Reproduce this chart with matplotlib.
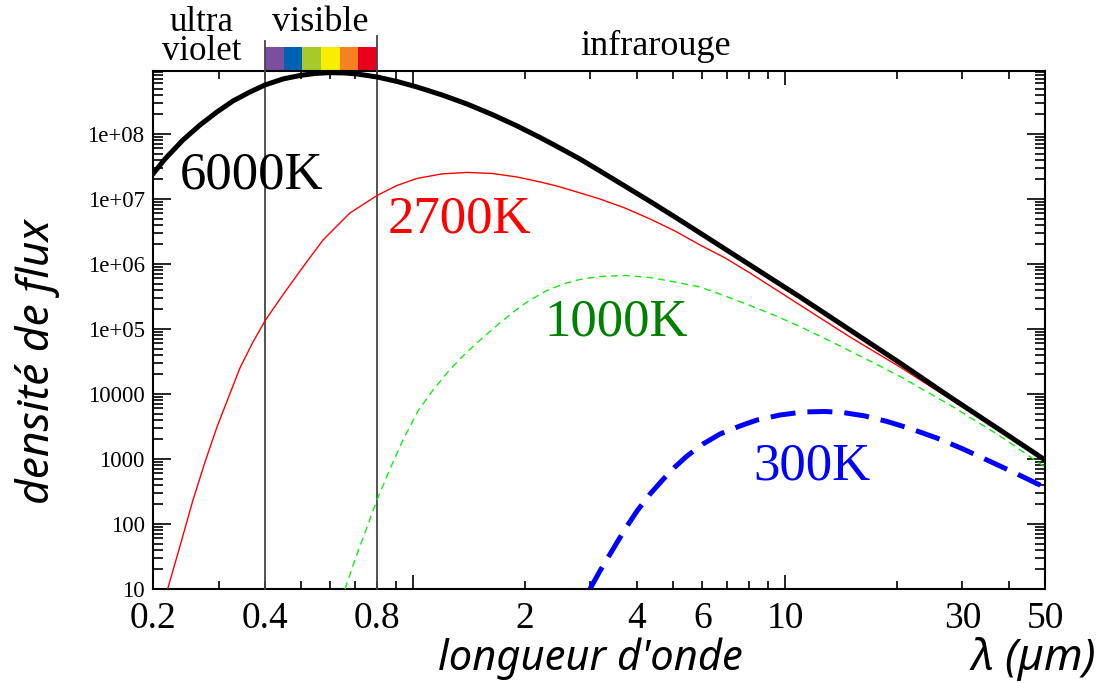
import matplotlib
matplotlib.use("Agg")
import matplotlib.pyplot as plt
from matplotlib.ticker import FixedLocator, FuncFormatter, NullFormatter, LogLocator
from matplotlib.transforms import blended_transform_factory
import numpy as np

# ---- data (wavelength in µm, flux density) ----
lam_6000 = [0.2, 0.2154, 0.2408, 0.2676, 0.2972, 0.3282, 0.3646, 0.4, 0.4472, 0.4969, 0.5454,
            0.5981, 0.6564, 0.707, 0.8, 0.9054, 1.025, 1.197, 1.397, 1.63, 1.903, 2.195, 2.438,
            2.81, 3.18, 3.71, 4.34, 5.06, 5.91, 6.9, 8.05, 9.4, 10.97, 14.95, 20.38, 27.77, 37.85, 50]
val_6000 = [2.43e7, 4.12e7, 8.09e7, 1.375e8, 2.18e8, 3.22e8, 4.43e8, 5.67e8, 7.02e8, 7.94e8, 8.53e8,
            8.77e8, 8.67e8, 8.37e8, 7.53e8, 6.42e8, 5.28e8, 3.98e8, 2.89e8, 2.0e8, 1.33e8, 8.83e7, 6.42e7,
            4.12e7, 2.70e7, 1.58e7, 9.15e6, 5.28e6, 3.0e6, 1.70e6, 9.66e5, 5.47e5, 3.11e5, 9.66e4, 3.0e4,
            9.0e3, 2.79e3, 966]

lam_2700 = [0.219, 0.2364, 0.2562, 0.276, 0.2972, 0.3202, 0.3426, 0.3714, 0.4, 0.4391, 0.4969, 0.573,
            0.677, 0.8, 0.905, 1.025, 1.197, 1.397, 1.63, 1.903, 2.195, 2.438, 2.81, 3.18, 3.71, 4.34,
            5.06, 5.91, 6.9, 8.05, 9.4, 10.97, 14.95, 20.38, 27.77, 37.85, 50]
val_2700 = [10, 45.9, 234, 900, 3106, 9310, 2.51e4, 6.31e4, 1.33e5, 2.9e5, 7.8e5, 2.34e6,
            6.09e6, 1.13e7, 1.61e7, 2.07e7, 2.43e7, 2.56e7, 2.47e7, 2.18e7, 1.83e7, 1.58e7, 1.24e7,
            1.0e7, 7.27e6, 4.92e6, 3.22e6, 1.96e6, 1.24e6, 7.27e5, 4.12e5, 2.34e5, 7.53e4, 2.6e4,
            8.38e3, 2.70e3, 931]

lam_1000 = [0.6564, 0.698, 0.743, 0.8, 0.867, 0.94, 1.031, 1.132, 1.257, 1.397, 1.542, 1.713, 1.857,
            2.025, 2.29, 2.56, 2.81, 3.18, 3.71, 4.34, 5.06, 5.91, 6.9, 8.05, 9.4, 10.97, 12.81,
            14.95, 17.46, 20.38, 27.77, 37.85, 50]
val_1000 = [10, 27.9, 73.9, 234, 702, 1960, 5470, 1.15e4, 2.38e4, 4.43e4, 7.4e4, 1.24e5, 1.80e5,
            2.60e5, 3.91e5, 5.01e5, 5.78e5, 6.42e5, 6.65e5, 6.19e5, 5.28e5, 4.43e5, 3.22e5, 2.30e5,
            1.61e5, 1.09e5, 7.14e4, 4.59e4, 2.94e4, 1.86e4, 6.78e3, 2.26e3, 753]

lam_300 = [2.99, 3.18, 3.45, 3.71, 4.0, 4.34, 4.70, 5.06, 5.45, 6.02, 6.69, 7.57, 8.41, 9.70, 11.18,
           12.81, 14.31, 16.4, 18.8, 21.7, 25.6, 29.9, 34.9, 41.5, 50]
val_300 = [10, 18.9, 41.2, 82.2, 158, 290, 484, 753, 1110, 1700, 2425, 3220, 3980, 4750, 5290,
           5380, 5190, 4590, 3780, 2940, 2100, 1450, 966, 610, 365]

x_tick_values = [0.2, 0.4, 0.8, 2, 4, 6, 10, 30, 50]
x_tick_labels = ["0.2", "0.4", "0.8", "2", "4", "6", "10", "30", "50"]
y_tick_labels = ["10", "100", "1000", "10000", "1e+05", "1e+06", "1e+07", "1e+08"]

vis_colors = ["#7b4f9e", "#0062b1", "#a8c92b", "#f8ee00", "#f58220", "#e8001e"]
vis_edges = [0.4, 0.449, 0.504, 0.566, 0.635, 0.713, 0.8]

serif = "Liberation Serif"
sans_it = "Noto Sans"

fig = plt.figure(figsize=(11.02, 6.83), dpi=100)
ax = fig.add_axes([153/1102, (683-589)/683, (1045-153)/1102, (589-70.7)/683])
ax.set_xscale("log")
ax.set_yscale("log")
ax.set_xlim(0.2, 50)
ax.set_ylim(10, 9.4e8)

ax.plot(lam_6000, val_6000, color="black", lw=3.6, zorder=5)
ax.plot(lam_2700, val_2700, color="red", lw=1.0, zorder=4)
ax.plot(lam_1000, val_1000, color="#11ee11", lw=1.0, dashes=(5, 3.5), zorder=4)
ax.plot(lam_300, val_300, color="blue", lw=3.6, dashes=(5, 2.4), zorder=4)

tr = blended_transform_factory(ax.transData, ax.transAxes)
# vertical visible-range lines
for xv, top in [(0.4, 1.057), (0.8, 1.066)]:
    ax.plot([xv, xv], [0, top], transform=tr, color="#444444", lw=1.3, clip_on=False, zorder=3)

# colour band of the visible range
for c, lo, hi in zip(vis_colors, vis_edges[:-1], vis_edges[1:]):
    ax.axvspan(lo, hi, ymin=1.0, ymax=1.046, color=c, clip_on=False, zorder=2, lw=0)

# ticks
maj_x = [1, 10]
minor_x = [m * d for d in (0.1, 1, 10) for m in range(2, 10) if 0.2 <= m * d <= 50.001]

def find_label(v):
    for k, s in zip(x_tick_values, x_tick_labels):
        if abs(v - k) < 1e-6 * max(1, k):
            return s
    return ""

ax.xaxis.set_major_locator(FixedLocator(maj_x))
ax.xaxis.set_major_formatter(FuncFormatter(lambda v, p: find_label(v)))
ax.xaxis.set_minor_locator(FixedLocator(minor_x))
ax.xaxis.set_minor_formatter(FuncFormatter(lambda v, p: find_label(v)))

ax.yaxis.set_major_locator(FixedLocator([10.0 ** k for k in range(1, 9)]))
ax.yaxis.set_major_formatter(FuncFormatter(lambda v, p: y_tick_labels[int(round(np.log10(v))) - 1]))
ax.yaxis.set_minor_locator(LogLocator(base=10, subs=np.arange(2, 10), numticks=20))
ax.yaxis.set_minor_formatter(NullFormatter())

ax.tick_params(axis="x", which="both", direction="in", top=True, bottom=True,
               labelsize=27, pad=9, width=1.2, colors="black")
ax.tick_params(axis="x", which="major", length=10)
ax.tick_params(axis="x", which="minor", length=5.5)
ax.tick_params(axis="y", which="both", direction="in", left=True, right=True,
               labelsize=16.5, pad=6, width=1.2)
ax.tick_params(axis="y", which="major", length=13)
ax.tick_params(axis="y", which="minor", length=7.5)
for lab in ax.get_xticklabels(which="both") + ax.get_yticklabels():
    lab.set_fontfamily(serif)
for s in ax.spines.values():
    s.set_linewidth(1.5)

# curve labels
ax.text(0.236, 2.26e7, "6000K", fontsize=38, family=serif, color="black", ha="left", va="center", zorder=6)
ax.text(0.856, 4.75e6, "2700K", fontsize=38, family=serif, color="red", ha="left", va="center")
ax.text(2.26, 1.28e5, "1000K", fontsize=38, family=serif, color="#008000", ha="left", va="center")
ax.text(8.2, 753, "300K", fontsize=38, family=serif, color="blue", ha="left", va="center")

# region labels above the plot
ax.text(0.27, 1.0207, "ultra\nviolet", transform=tr, fontsize=25, family=serif, ha="center",
        va="baseline", multialignment="center", linespacing=0.82)
ax.text(0.564, 1.077, "visible", transform=tr, fontsize=26, family=serif, ha="center", va="baseline")
ax.text(4.5, 1.030, "infrarouge", transform=tr, fontsize=26, family=serif, ha="center", va="baseline")

# axis labels
fig.text(590/1102, 1 - 659/683, "longueur d'onde", fontsize=30, family=sans_it, style="italic",
         ha="center", va="center")
fig.text(1096/1102, 1 - 659/683, "λ (µm)", fontsize=32, family=sans_it, style="italic",
         ha="right", va="center")
fig.text(38/1102, 1 - 362/683, "densité de flux", fontsize=32, family=sans_it, style="italic",
         ha="center", va="center", rotation=90)

fig.savefig("out.png", dpi=100)
